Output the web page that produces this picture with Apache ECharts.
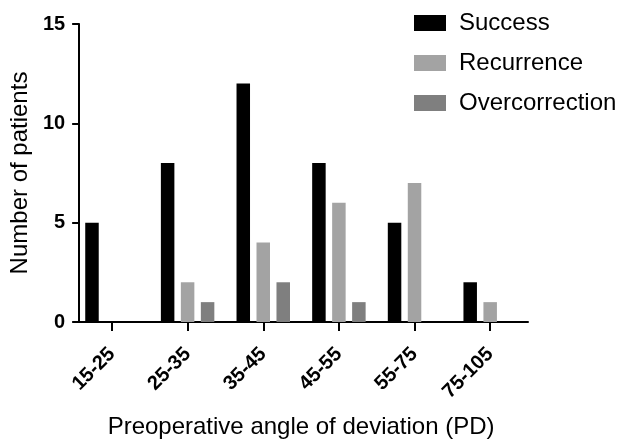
<!DOCTYPE html>
<html>
<head>
<meta charset="utf-8">
<script src="https://cdn.jsdelivr.net/npm/echarts@6/dist/echarts.min.js"></script>
<style>
html,body{margin:0;padding:0;background:#fff;}
#chart{width:622px;height:444px;}
</style>
</head>
<body>
<div id="chart"></div>
<script>
const categories = ['15-25', '25-35', '35-45', '45-55', '55-75', '75-105'];
const success = [5, 8, 12, 8, 5, 2];
const recurrence = [0, 2, 4, 6, 7, 1];
const overcorrection = [0, 1, 2, 1, 0, 0];
const yTicks = { min: 0, max: 15, interval: 5 };
const seriesNames = ['Success', 'Recurrence', 'Overcorrection'];
const colors = ['#000000', '#a3a3a3', '#7f7f7f'];

const FONT = '"Liberation Sans", Arial, sans-serif';
const chart = echarts.init(document.getElementById('chart'), null, { renderer: 'canvas' });

const values = [success, recurrence, overcorrection];
chart.setOption({
  backgroundColor: '#fff',
  animation: false,
  textStyle: { fontFamily: FONT },
  grid: { left: 73, right: 94, top: 24, bottom: 122, containLabel: false },
  legend: {
    orient: 'vertical',
    left: 409,
    top: 6,
    itemWidth: 32,
    itemHeight: 16,
    itemGap: 16,
    icon: 'rect',
    data: seriesNames,
    textStyle: { fontFamily: FONT, fontSize: 24, lineHeight: 24, color: '#000', padding: [0, 0, 0, 8] }
  },
  xAxis: {
    type: 'category',
    data: categories,
    name: 'Preoperative angle of deviation (PD)',
    nameLocation: 'middle',
    nameGap: 93,
    nameTextStyle: { fontFamily: FONT, fontSize: 24, color: '#000' },
    axisLine: { show: true, lineStyle: { color: '#000', width: 2 } },
    axisTick: { show: true, alignWithLabel: true, length: 9, lineStyle: { color: '#000', width: 2 } },
    axisLabel: { rotate: 45, margin: 29, fontFamily: FONT, fontSize: 20, fontWeight: 'bold', color: '#000' },
    splitLine: { show: false }
  },
  yAxis: {
    type: 'value',
    min: yTicks.min,
    max: yTicks.max,
    interval: yTicks.interval,
    offset: -5,
    name: 'Number of patients',
    nameLocation: 'middle',
    nameGap: 38,
    nameTextStyle: { fontFamily: FONT, fontSize: 24, color: '#000' },
    axisLine: { show: true, lineStyle: { color: '#000', width: 2 } },
    axisTick: { show: true, length: 7, lineStyle: { color: '#000', width: 2 } },
    axisLabel: { margin: 14, fontFamily: FONT, fontSize: 20, fontWeight: 'bold', color: '#000' },
    splitLine: { show: false }
  },
  series: seriesNames.map((name, i) => ({
    name: name,
    type: 'bar',
    data: values[i],
    barWidth: 13.5,
    barGap: '48%',
    itemStyle: { color: colors[i] }
  }))
});
</script>
</body>
</html>
